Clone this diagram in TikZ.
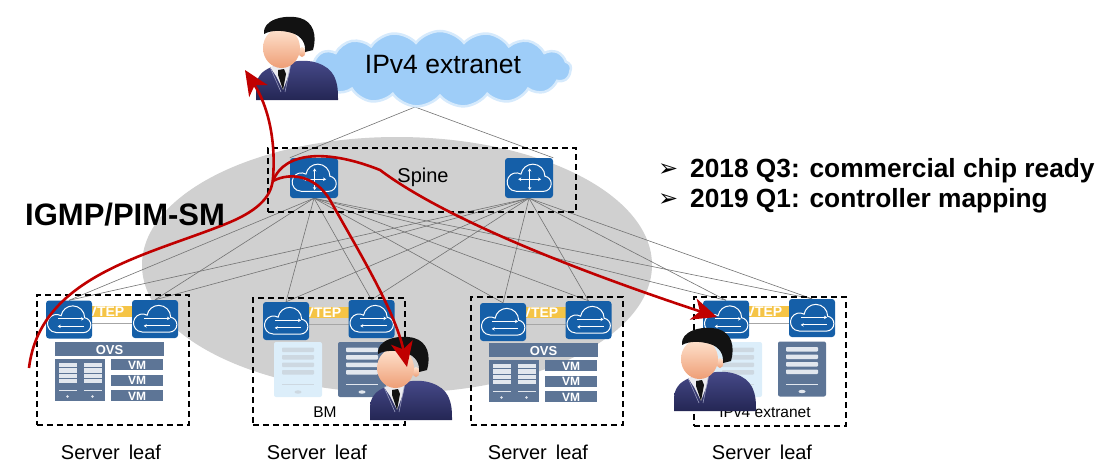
\documentclass[tikz,border=0pt]{standalone}
\usepackage{fontspec}
\setmainfont{Liberation Sans}
\newfontfamily\symfont{DejaVu Sans}
\usetikzlibrary{shapes.symbols,arrows.meta}

\definecolor{swblue}{RGB}{21,95,168}
\definecolor{slate}{RGB}{93,117,150}
\definecolor{slaterow}{RGB}{226,231,238}
\definecolor{lightsrv}{RGB}{220,238,250}
\definecolor{lightrow}{RGB}{205,216,225}
\definecolor{vtepyellow}{RGB}{245,196,70}
\definecolor{ellgray}{RGB}{208,208,208}
\definecolor{cloudblue}{RGB}{158,205,248}
\definecolor{cloudedge}{RGB}{214,234,252}
\definecolor{arrowred}{RGB}{192,0,0}
\definecolor{suittop}{RGB}{72,76,140}
\definecolor{suitbot}{RGB}{36,38,84}
\definecolor{skinlight}{RGB}{255,228,208}
\definecolor{skindark}{RGB}{238,158,118}
\definecolor{skinmid}{RGB}{226,150,112}
\definecolor{hair}{RGB}{18,18,18}
\definecolor{shirt}{RGB}{236,236,240}

\pgfdeclarelayer{back}
\pgfdeclarelayer{links}
\pgfsetlayers{back,links,main}

\tikzset{
  swbox/.style={rectangle, rounded corners=3pt, fill=swblue, draw=none,
    minimum width=46pt, minimum height=38pt, inner sep=0pt},
  dashbox/.style={rectangle, draw=black, line width=1.6pt,
    dash pattern=on 6pt off 4pt, inner sep=0pt},
  link/.style={draw=gray!90!black, line width=0.6pt},
  redarrow/.style={draw=arrowred, line width=2.6pt,
    -{Stealth[length=25pt,width=22pt,inset=7pt]}},
  vteptext/.style={text=white, font=\bfseries\fontsize{14}{14}\selectfont, inner sep=0pt},
  ovstext/.style={text=white, font=\bfseries\fontsize{13}{13}\selectfont, inner sep=0pt},
  leaflabel/.style={font=\fontsize{20}{20}\selectfont, anchor=base, inner sep=0pt},
  smalllabel/.style={font=\fontsize{15.5}{15.5}\selectfont, anchor=base, inner sep=0pt},
  % cloud switch with two opposite arrows
  leafsw/.pic={
    \node[swbox] (-box) at (0,0) {};
    \begin{scope}[x=1pt,y=1pt,scale=1.25,white,line width=1pt]
      \draw (-9.9,-10.5) -- (11.5,-10.5) arc[start angle=-90,end angle=80,radius=6]
        arc[start angle=0,end angle=170,radius=9.5]
        arc[start angle=60,end angle=270,radius=7.26] -- cycle;
      \draw[-{Stealth[length=3pt,width=3.5pt]}] (-9,0.5) -- (12,0.5);
      \draw[-{Stealth[length=3pt,width=3.5pt]}] (12,-5.5) -- (-9,-5.5);
    \end{scope}
  },
  % cloud router with a four-way cross
  spinesw/.pic={
    \node[swbox, minimum width=48pt, minimum height=40pt] (-box) at (0,0) {};
    \begin{scope}[x=1pt,y=1pt,scale=1.27,white,line width=1pt]
      \draw (-9.9,-10.5) -- (11.5,-10.5) arc[start angle=-90,end angle=80,radius=6]
        arc[start angle=0,end angle=170,radius=9.5]
        arc[start angle=60,end angle=270,radius=7.26] -- cycle;
      \draw[{Stealth[length=3pt,width=3.5pt]}-{Stealth[length=3pt,width=3.5pt]}] (0.5,-9.5) -- (0.5,7.5);
      \draw[{Stealth[length=3pt,width=3.5pt]}-{Stealth[length=3pt,width=3.5pt]}] (-8.5,-1) -- (9.5,-1);
    \end{scope}
  },
  % rack server with two columns of drives
  rack/.pic={
    \fill[slate] (-25,-21) rectangle (25,21);
    \foreach \cx in {-12.5,12.5}{
      \foreach \yy in {-17,-11.7,-6.4,-1.1}
        \fill[slaterow] (\cx-9,\yy) rectangle (\cx+9,\yy+4.3);
      \fill[slaterow] (\cx-9,10) rectangle (\cx+9,11.4);
      \fill[slaterow] (\cx,16.5) circle[radius=1.3];
    }
  },
  % three virtual machines
  vms/.pic={
    \foreach \yy/\k in {-15.5/1,0/2,15.5/3}{
      \fill[slate] (-26,\yy-5.5) rectangle (26,\yy+5.5);
      \node[ovstext, font=\bfseries\fontsize{12}{12}\selectfont] (-vm\k) at (0,\yy+0.5) {VM};
    }
  },
  % bare-metal server, fill and row colours as arguments
  pics/tablet/.style 2 args={code={
    \fill[#1, rounded corners=2pt] (-24,-27.5) rectangle (24,27.5);
    \foreach \yy in {-22,-14.5,-7,0.5}
      \fill[#2, rounded corners=0.8pt] (-16,\yy) rectangle (16,\yy+4.5);
    \fill[#2] (-16,14.5) rectangle (16,15.7);
    \fill[#2] (0,22.5) ellipse[x radius=3.5,y radius=1.7];
  }},
  % user in a suit
  person/.pic={
    \shade[top color=suittop, bottom color=suitbot]
      (-42,40) -- (-42,26) .. controls (-41,14) and (-32,8) .. (-22,6)
      -- (-6,2) .. controls (12,-2) and (30,4) .. (36,16)
      .. controls (40,24) and (40,32) .. (40,40) -- cycle;
    \fill[skinmid] (-24,-4) rectangle (-8,10);
    \fill[shirt] (-28,7) -- (-7,3) -- (-9,14) -- (-15,30) -- (-22,16) -- cycle;
    \fill[hair] (-20,10) -- (-14,9) -- (-12,14) -- (-15,30) -- (-20,15) -- cycle;
    \draw[suittop!55!white, line width=0.6pt] (-28,7) -- (-17,32);
    \draw[suittop!55!white, line width=0.6pt] (-7,3) -- (-13,32);
    \shade[top color=skinlight, bottom color=skindark] (4,-8) ellipse[x radius=3.5,y radius=5];
    \shade[top color=skinlight, bottom color=skindark] (-16.5,-12) ellipse[x radius=18.5,y radius=20];
    \fill[hair] (-34,-26) .. controls (-36,-40) and (-14,-46) .. (2,-42)
      .. controls (16,-38) and (19,-24) .. (15,-10) -- (7,-8)
      .. controls (8,-16) and (4,-24) .. (-6,-27)
      .. controls (-16,-30) and (-27,-30) .. (-34,-26) -- cycle;
  }
}

\begin{document}
\begin{tikzpicture}[x=1pt,y=-1pt]
\useasboundingbox (0,0) rectangle (1102,463);

% grey fabric area
\begin{pgfonlayer}{back}
  \fill[ellgray] (397,265) ellipse[x radius=255,y radius=128];
\end{pgfonlayer}

% external network
\node[cloud, cloud puffs=17, cloud puff arc=105, cloud ignores aspect,
  minimum width=262pt, minimum height=76pt, inner sep=0pt,
  fill=cloudblue, draw=cloudedge, line width=2.5pt] (net) at (440,69) {};
\node[font=\fontsize{26.5}{26.5}\selectfont, anchor=base, inner sep=0pt] (netlabel) at (443,73) {IPv4 extranet};
\coordinate (netfoot) at (415,107);

% spine layer
\node[dashbox, minimum width=308pt, minimum height=64pt, anchor=north west] (spine) at (267,147) {};
\node[font=\fontsize{20}{20}\selectfont, inner sep=0pt] (spinelabel) at (423,177) {Spine};
\pic (sp1) at (314,178) {spinesw};
\pic (sp2) at (529,178) {spinesw};

% server leaf 1
\begin{scope}[shift={(36,294)}]
  \node[dashbox, minimum width=152pt, minimum height=130pt, anchor=north west] (leaf1) at (0,0) {};
  \fill[vtepyellow] (40,12) rectangle (112,23);
  \draw[gray!70, line width=0.8pt] (40,29) -- (112,29);
  \node[vteptext] (leaf1-vtep) at (70,17.5) {VTEP};
  \pic (l1a) at (33,25.5) {leafsw};
  \pic (l1b) at (119,25) {leafsw};
  \fill[slate] (19,48) rectangle (128,62);
  \node[ovstext] (leaf1-ovs) at (73.5,56) {OVS};
  \pic at (44,86) {rack};
  \pic (leaf1) at (101,86) {vms};
\end{scope}

% server leaf 2
\begin{scope}[shift={(252,297)}]
  \node[dashbox, minimum width=152pt, minimum height=127pt, anchor=north west] (leaf2) at (0,0) {};
  \fill[vtepyellow] (40,10) rectangle (112,21);
  \draw[gray!70, line width=0.8pt] (40,27) -- (112,27);
  \node[vteptext] (leaf2-vtep) at (71,15.5) {VTEP};
  \pic (l2a) at (34,24) {leafsw};
  \pic (l2b) at (119.5,22) {leafsw};
  \pic at (46,72.5) {tablet={lightsrv}{lightrow}};
  \pic at (110,72.5) {tablet={slate}{slaterow}};
  \node[smalllabel] (leaf2-bm) at (73,120) {BM};
\end{scope}

% server leaf 3
\begin{scope}[shift={(470,296)}]
  \node[dashbox, minimum width=152pt, minimum height=128pt, anchor=north west] (leaf3) at (0,0) {};
  \fill[vtepyellow] (40,11) rectangle (112,22);
  \draw[gray!70, line width=0.8pt] (40,28) -- (112,28);
  \node[vteptext] (leaf3-vtep) at (70,16.5) {VTEP};
  \pic (l3a) at (33,26) {leafsw};
  \pic (l3b) at (118.5,24) {leafsw};
  \fill[slate] (19,47) rectangle (128,61);
  \node[ovstext] (leaf3-ovs) at (73.5,55) {OVS};
  \pic at (44,85) {rack};
  \pic (leaf3) at (101,85) {vms};
\end{scope}

% server leaf 4
\begin{scope}[shift={(693,296)}]
  \node[dashbox, minimum width=152pt, minimum height=129pt, anchor=north west] (leaf4) at (0,0) {};
  \fill[vtepyellow] (40,10) rectangle (112,21);
  \draw[gray!70, line width=0.8pt] (40,27) -- (112,27);
  \node[vteptext] (leaf4-vtep) at (71,15.5) {VTEP};
  \pic (l4a) at (33,23.5) {leafsw};
  \pic (l4b) at (119,22) {leafsw};
  \pic at (45,73.5) {tablet={lightsrv}{lightrow}};
  \pic at (109,73) {tablet={slate}{slaterow}};
  \node[smalllabel] (leaf4-ext) at (72,121) {IPv4 extranet};
\end{scope}

% captions under the leaves
\node[leaflabel] (cap1) at (111,459) {Server\hspace{0.45em}leaf};
\node[leaflabel] (cap2) at (317,459) {Server\hspace{0.45em}leaf};
\node[leaflabel] (cap3) at (538,459) {Server\hspace{0.45em}leaf};
\node[leaflabel] (cap4) at (762,459) {Server\hspace{0.45em}leaf};

% fabric links
\begin{pgfonlayer}{links}
  \draw[link] (netfoot) -- (sp1-box.north west);
  \draw[link] (netfoot) -- (sp2-box.north east);
  \foreach \s in {sp1,sp2}
    \foreach \l in {l1a,l1b,l2a,l2b,l3a,l3b,l4a,l4b}
      \draw[link] (\s-box.south) -- (\l-box.north);
\end{pgfonlayer}

% users
\pic at (298,60) {person};
\pic at (412,380) {person};
\pic at (716,371) {person};

% multicast paths
\coordinate (src) at (29,368);
\coordinate (jn) at (273,181);
\coordinate (ext) at (245,70);
\coordinate (rcv2) at (407,367);
\coordinate (rcv4) at (717,317);
\draw[redarrow] (src) .. controls (40,275) and (150,255) .. (228,223)
  .. controls (262,209) and (272,194) .. (273,178)
  .. controls (276,140) and (268,106) .. (ext);
\draw[redarrow] (jn) .. controls (285,150) and (330,150) .. (380,170)
  .. controls (440,215) and (560,265) .. (rcv4);
\draw[redarrow] (jn) .. controls (290,172) and (315,175) .. (330,200)
  .. controls (355,245) and (395,310) .. (rcv2);

% protocol label
\node[font=\bfseries\fontsize{31}{31}\selectfont, anchor=base west, inner sep=0pt] (proto) at (25,225) {IGMP/PIM-SM};

% milestones
\node[font=\symfont\fontsize{24}{24}\selectfont, anchor=base west, inner sep=0pt] (b1) at (658,176) {➢};
\node[font=\bfseries\fontsize{26.3}{26.3}\selectfont, anchor=base west, inner sep=0pt] (m1) at (690,177) {2018 Q3: commercial chip ready};
\node[font=\symfont\fontsize{24}{24}\selectfont, anchor=base west, inner sep=0pt] (b2) at (658,206) {➢};
\node[font=\bfseries\fontsize{26.3}{26.3}\selectfont, anchor=base west, inner sep=0pt] (m2) at (690,207) {2019 Q1: controller mapping};
\end{tikzpicture}
\end{document}
